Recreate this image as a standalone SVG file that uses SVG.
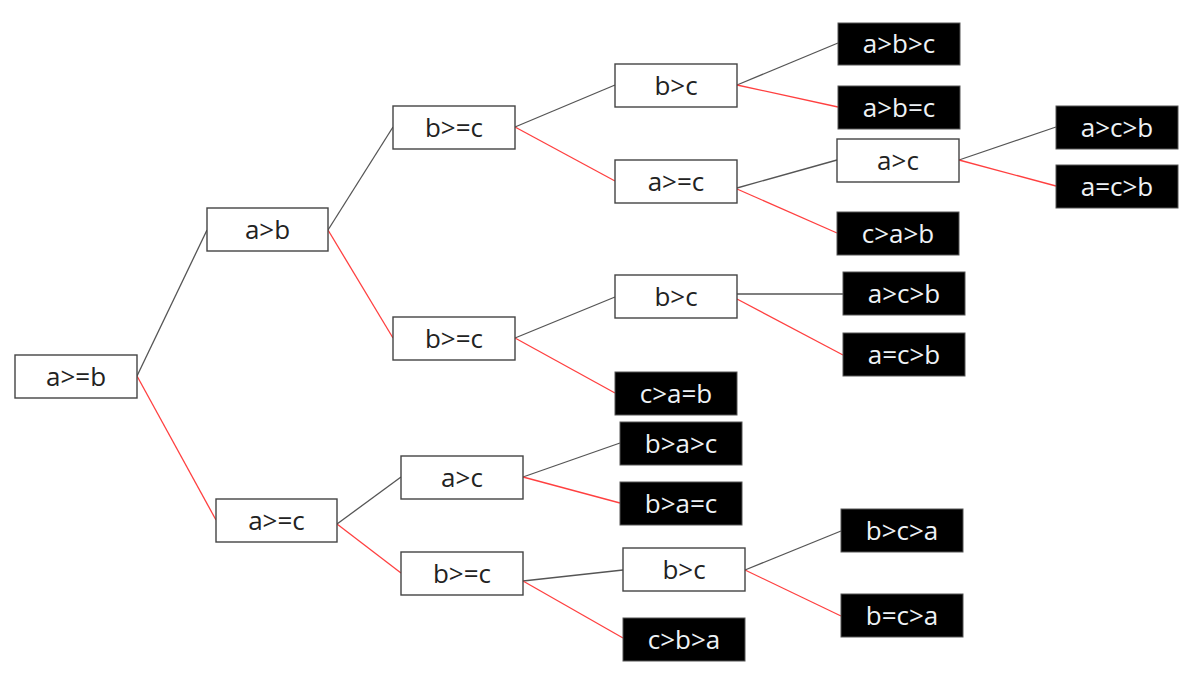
<svg xmlns="http://www.w3.org/2000/svg" width="1194" height="681" viewBox="0 0 1194 681">
<style>
.w rect{fill:#fff;stroke:#444;stroke-width:1.4}
.b rect{fill:#000;stroke:#555;stroke-width:1}
text{font-family:"Open Sans","Noto Sans","DejaVu Sans",sans-serif;font-size:26px;text-anchor:middle}
.w text{fill:#222}
.b text{fill:#eef2f6}
.k{stroke:#555;stroke-width:1.3;fill:none}
.r{stroke:#ff4040;stroke-width:1.3;fill:none}
</style>
<rect width="1194" height="681" fill="#fff"/>
<g id="connectors">
<line class="k" x1="137" y1="376" x2="207" y2="230"/>
<line class="r" x1="137" y1="376" x2="216" y2="520"/>
<line class="k" x1="328" y1="230" x2="393" y2="127"/>
<line class="r" x1="328" y1="230" x2="393" y2="338"/>
<line class="k" x1="515" y1="127" x2="615" y2="85"/>
<line class="r" x1="515" y1="127" x2="615" y2="181"/>
<line class="k" x1="737" y1="85" x2="838" y2="43"/>
<line class="r" x1="737" y1="85" x2="838" y2="107"/>
<line class="k" x1="737" y1="188" x2="837" y2="160"/>
<line class="r" x1="737" y1="189" x2="837" y2="233"/>
<line class="k" x1="959" y1="160" x2="1056" y2="127"/>
<line class="r" x1="959" y1="160" x2="1056" y2="186"/>
<line class="k" x1="515" y1="338" x2="615" y2="297"/>
<line class="r" x1="515" y1="338" x2="615" y2="393"/>
<line class="k" x1="737" y1="294" x2="843" y2="294"/>
<line class="r" x1="737" y1="299" x2="843" y2="355"/>
<line class="k" x1="337" y1="524" x2="401" y2="477"/>
<line class="r" x1="337" y1="524" x2="401" y2="573"/>
<line class="k" x1="523" y1="477" x2="620" y2="443"/>
<line class="r" x1="523" y1="477" x2="620" y2="503"/>
<line class="k" x1="523" y1="581" x2="623" y2="570"/>
<line class="r" x1="523" y1="581" x2="623" y2="638"/>
<line class="k" x1="745" y1="570" x2="841" y2="531"/>
<line class="r" x1="745" y1="570" x2="841" y2="616"/>
</g>
<g id="n1" class="w"><rect x="15" y="355" width="122" height="43"/><text x="76" y="386">a&gt;=b</text></g>
<g id="n2" class="w"><rect x="207" y="208" width="121" height="43"/><text x="267.5" y="239">a&gt;b</text></g>
<g id="n3" class="w"><rect x="393" y="106" width="122" height="43"/><text x="454" y="137">b&gt;=c</text></g>
<g id="n4" class="w"><rect x="393" y="317" width="122" height="43"/><text x="454" y="348">b&gt;=c</text></g>
<g id="n5" class="w"><rect x="216" y="499" width="121" height="43"/><text x="276.5" y="530">a&gt;=c</text></g>
<g id="n6" class="w"><rect x="615" y="64" width="122" height="43"/><text x="676" y="95">b&gt;c</text></g>
<g id="n7" class="w"><rect x="615" y="160" width="122" height="43"/><text x="676" y="191">a&gt;=c</text></g>
<g id="n8" class="w"><rect x="615" y="275" width="122" height="43"/><text x="676" y="306">b&gt;c</text></g>
<g id="n9" class="w"><rect x="837" y="139" width="122" height="43"/><text x="898" y="170">a&gt;c</text></g>
<g id="n10" class="w"><rect x="401" y="456" width="122" height="43"/><text x="462" y="487">a&gt;c</text></g>
<g id="n11" class="w"><rect x="401" y="552" width="122" height="43"/><text x="462" y="583">b&gt;=c</text></g>
<g id="n12" class="w"><rect x="623" y="548" width="122" height="43"/><text x="684" y="579">b&gt;c</text></g>
<g id="l1" class="b"><rect x="838" y="23" width="122" height="42"/><text x="899" y="53">a&gt;b&gt;c</text></g>
<g id="l2" class="b"><rect x="838" y="86" width="122" height="43"/><text x="899" y="117">a&gt;b=c</text></g>
<g id="l3" class="b"><rect x="1056" y="106" width="122" height="43"/><text x="1117" y="137">a&gt;c&gt;b</text></g>
<g id="l4" class="b"><rect x="1056" y="165" width="122" height="43"/><text x="1117" y="196">a=c&gt;b</text></g>
<g id="l5" class="b"><rect x="837" y="212" width="122" height="43"/><text x="898" y="243">c&gt;a&gt;b</text></g>
<g id="l6" class="b"><rect x="843" y="272" width="122" height="43"/><text x="904" y="303">a&gt;c&gt;b</text></g>
<g id="l7" class="b"><rect x="843" y="333" width="122" height="43"/><text x="904" y="364">a=c&gt;b</text></g>
<g id="l8" class="b"><rect x="615" y="372" width="122" height="43"/><text x="676" y="403">c&gt;a=b</text></g>
<g id="l9" class="b"><rect x="620" y="422" width="122" height="43"/><text x="681" y="453">b&gt;a&gt;c</text></g>
<g id="l10" class="b"><rect x="620" y="482" width="122" height="43"/><text x="681" y="513">b&gt;a=c</text></g>
<g id="l11" class="b"><rect x="841" y="509" width="122" height="43"/><text x="902" y="540">b&gt;c&gt;a</text></g>
<g id="l12" class="b"><rect x="841" y="594" width="122" height="43"/><text x="902" y="625">b=c&gt;a</text></g>
<g id="l13" class="b"><rect x="623" y="618" width="122" height="43"/><text x="684" y="649">c&gt;b&gt;a</text></g>
</svg>
